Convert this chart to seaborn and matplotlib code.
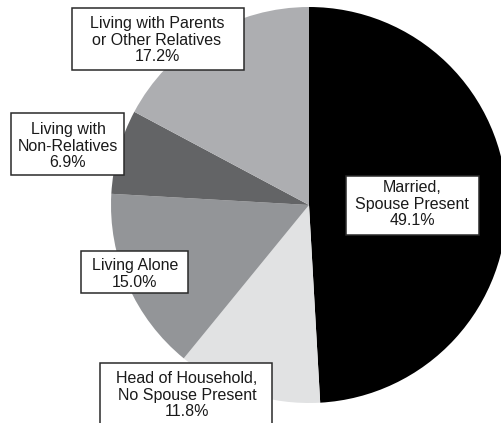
import matplotlib
matplotlib.use("Agg")
import matplotlib.pyplot as plt
from matplotlib.patches import Rectangle
import seaborn as sns

# ---- data ----
categories = ["Married,\nSpouse Present",
              "Head of Household,\nNo Spouse Present",
              "Living Alone",
              "Living with\nNon-Relatives",
              "Living with Parents\nor Other Relatives"]
shares = [49.1, 11.8, 15.0, 6.9, 17.2]
colors = ["#000000", "#e1e2e3", "#939598", "#636466", "#adaeb1"]

# ---- layout (pixel-like coordinates, y up) ----
W, H = 501, 423
pie_center = (309, 218)
pie_radius = 198
# text centre and box (x0, y0, x1, y1) for each label
text_pos = [(412, 219), (187, 28), (135, 149), (68, 277), (157, 383)]
boxes = [(346, 188, 479, 247), (100, -10, 272, 60), (81, 130, 188, 172),
         (11, 248, 124, 310), (72, 353, 244, 415)]

sns.set_theme(style="white")
plt.rcParams["font.family"] = ["Liberation Sans", "DejaVu Sans"]

fig = plt.figure(figsize=(W / 100, H / 100), dpi=100)
ax = fig.add_axes([0, 0, 1, 1])
palette = sns.color_palette(colors)

ax.pie(shares, colors=palette, startangle=90, counterclock=False,
       center=pie_center, radius=pie_radius,
       wedgeprops=dict(linewidth=0, antialiased=True))

for cat, val, (tx, ty), (x0, y0, x1, y1) in zip(categories, shares, text_pos, boxes):
    ax.add_patch(Rectangle((x0, y0), x1 - x0, y1 - y0, facecolor="white",
                           edgecolor="#2a2a2a", linewidth=1.1, zorder=3))
    ax.text(tx, ty, f"{cat}\n{val:.1f}%", ha="center", va="center",
            fontsize=11.5, linespacing=1.15, color="#1a1a1a", zorder=4)

ax.set_xlim(0, W)
ax.set_ylim(0, H)
ax.set_aspect("equal")
ax.axis("off")
fig.savefig("out.png", dpi=100, facecolor="white")
